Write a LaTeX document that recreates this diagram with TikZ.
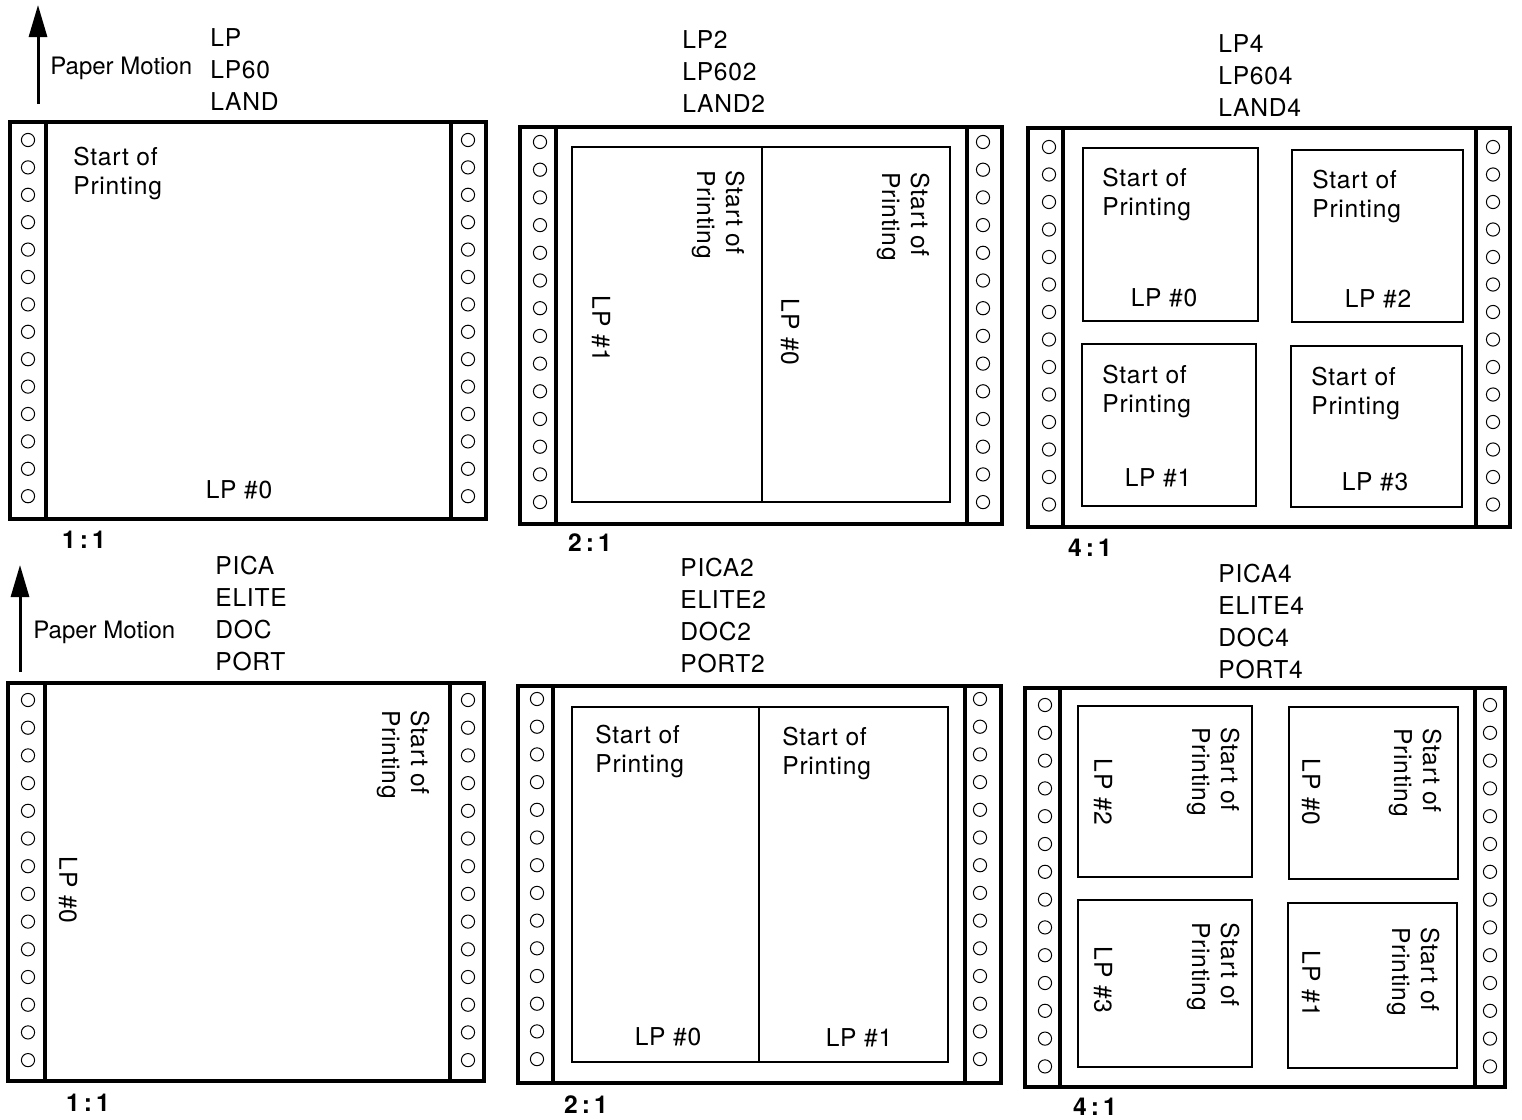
\documentclass[tikz,border=0pt]{standalone}
\usepackage{fontspec}
\setmainfont{TeX Gyre Heros}[LetterSpace=3]
\newfontfamily\motionfont{TeX Gyre Heros}
\usetikzlibrary{arrows.meta}
\begin{document}
\begin{tikzpicture}[x=0.5pt, y=-0.5pt,
    every node/.style={inner sep=0pt, font=\fontsize{12.3}{14.5}\selectfont},
    sheet/.style={line width=2pt},
    page/.style={line width=1.2pt},
    hole/.style={line width=0.5pt},
    motion/.style={line width=1.5pt, -{Triangle[length=16pt,width=9pt]}},
    motiontext/.style={anchor=west, font=\motionfont\fontsize{12}{14.5}\selectfont},
    modes/.style={anchor=north west, align=left, font=\fontsize{12.3}{16}\selectfont},
    ratio/.style={font=\fontsize{12.3}{14.5}\selectfont\bfseries},
    start/.style={anchor=north west, align=left},
    upright/.style={anchor=north west, align=left, rotate=-90}]
\useasboundingbox (0,0) rectangle (1522,1120);
% paper motion arrows
\coordinate (arrA0) at (38,104);
\coordinate (arrA1) at (38,5);
\draw[motion] (arrA0) -- (arrA1);
\node[motiontext] (motionA) at (50,68) {Paper Motion};
\coordinate (arrB0) at (20,672);
\coordinate (arrB1) at (20,565);
\draw[motion] (arrB0) -- (arrB1);
\node[motiontext] (motionB) at (33,632) {Paper Motion};
% mode names
\node[modes] (modeA1) at (210,28) {LP\\LP60\\LAND};
\node[modes] (modeA2) at (682,30) {LP2\\LP602\\LAND2};
\node[modes] (modeA4) at (1218,34) {LP4\\LP604\\LAND4};
\node[modes] (modeB1) at (215,556) {PICA\\ELITE\\DOC\\PORT};
\node[modes] (modeB2) at (680,558) {PICA2\\ELITE2\\DOC2\\PORT2};
\node[modes] (modeB4) at (1218,564) {PICA4\\ELITE4\\DOC4\\PORT4};
% sheet 1:1 landscape
\draw[sheet] (10,122) rectangle (486,519) (46,122) -- (46,519) (451,122) -- (451,519);
\foreach \k in {0,...,13}
  \draw[hole] (28,140+27.4*\k) circle[radius=3.3pt] (468,140+27.4*\k) circle[radius=3.3pt];
\node[start] (spA1) at (73,147) {Start of\\Printing};
\node (lpA1) at (239,490) {LP \#0};
\node[ratio] (ratioA1) at (84,540) {1\,:\,1};
% sheet 2:1 landscape
\draw[sheet] (520,127) rectangle (1002,524) (556,127) -- (556,524) (967,127) -- (967,524);
\foreach \k in {0,...,13}
  \draw[hole] (540,142+27.7*\k) circle[radius=3.3pt] (983,142+27.7*\k) circle[radius=3.3pt];
\draw[page] (572,147) rectangle (950,502) (762,147) -- (762,502);
\node[upright] (spA2a) at (745,170) {Start of\\Printing};
\node[upright] (spA2b) at (930,172) {Start of\\Printing};
\node[rotate=-90] (lpA2a) at (601,329) {LP \#1};
\node[rotate=-90] (lpA2b) at (790,332) {LP \#0};
\node[ratio] (ratioA2) at (590,543) {2\,:\,1};
% sheet 4:1 landscape
\draw[sheet] (1028,128) rectangle (1510,527) (1063,128) -- (1063,527) (1476,128) -- (1476,527);
\foreach \k in {0,...,13}
  \draw[hole] (1049,147+27.5*\k) circle[radius=3.3pt] (1493,147+27.5*\k) circle[radius=3.3pt];
\draw[page] (1083,148) rectangle (1258,321) (1292,150) rectangle (1463,322)
            (1082,344) rectangle (1256,506) (1291,346) rectangle (1462,507);
\node[start] (spA4a) at (1102,168) {Start of\\Printing};
\node[start] (spA4b) at (1312,170) {Start of\\Printing};
\node[start] (spA4c) at (1102,365) {Start of\\Printing};
\node[start] (spA4d) at (1311,367) {Start of\\Printing};
\node (lpA4a) at (1164,298) {LP \#0};
\node (lpA4b) at (1378,299) {LP \#2};
\node (lpA4c) at (1158,478) {LP \#1};
\node (lpA4d) at (1375,482) {LP \#3};
\node[ratio] (ratioA4) at (1090,548) {4\,:\,1};
% sheet 1:1 portrait
\draw[sheet] (8,683) rectangle (484,1081) (45,683) -- (45,1081) (450,683) -- (450,1081);
\foreach \k in {0,...,13}
  \draw[hole] (28,700+27.7*\k) circle[radius=3.3pt] (468,700+27.7*\k) circle[radius=3.3pt];
\node[upright] (spB1) at (430,710) {Start of\\Printing};
\node[rotate=-90] (lpB1) at (68,890) {LP \#0};
\node[ratio] (ratioB1) at (88,1103) {1\,:\,1};
% sheet 2:1 portrait
\draw[sheet] (518,686) rectangle (1001,1083) (553,686) -- (553,1083) (965,686) -- (965,1083);
\foreach \k in {0,...,13}
  \draw[hole] (537,699+27.7*\k) circle[radius=3.3pt] (980,699+27.7*\k) circle[radius=3.3pt];
\draw[page] (572,707) rectangle (948,1062) (759,707) -- (759,1062);
\node[start] (spB2a) at (595,725) {Start of\\Printing};
\node[start] (spB2b) at (782,727) {Start of\\Printing};
\node (lpB2a) at (668,1037) {LP \#0};
\node (lpB2b) at (859,1038) {LP \#1};
\node[ratio] (ratioB2) at (586,1105) {2\,:\,1};
% sheet 4:1 portrait
\draw[sheet] (1025,688) rectangle (1505,1087) (1060,688) -- (1060,1087) (1475,688) -- (1475,1087);
\foreach \k in {0,...,13}
  \draw[hole] (1045,705+27.8*\k) circle[radius=3.3pt] (1490,705+27.8*\k) circle[radius=3.3pt];
\draw[page] (1078,706) rectangle (1252,877) (1289,707) rectangle (1458,879)
            (1078,900) rectangle (1252,1067) (1288,903) rectangle (1457,1068);
\node[upright] (spB4a) at (1240,727) {Start of\\Printing};
\node[upright] (spB4b) at (1442,728) {Start of\\Printing};
\node[upright] (spB4c) at (1240,922) {Start of\\Printing};
\node[upright] (spB4d) at (1440,927) {Start of\\Printing};
\node[rotate=-90] (lpB4a) at (1103,792) {LP \#2};
\node[rotate=-90] (lpB4b) at (1311,792) {LP \#0};
\node[rotate=-90] (lpB4c) at (1103,980) {LP \#3};
\node[rotate=-90] (lpB4d) at (1311,984) {LP \#1};
\node[ratio] (ratioB4) at (1095,1107) {4\,:\,1};
\end{tikzpicture}
\end{document}
